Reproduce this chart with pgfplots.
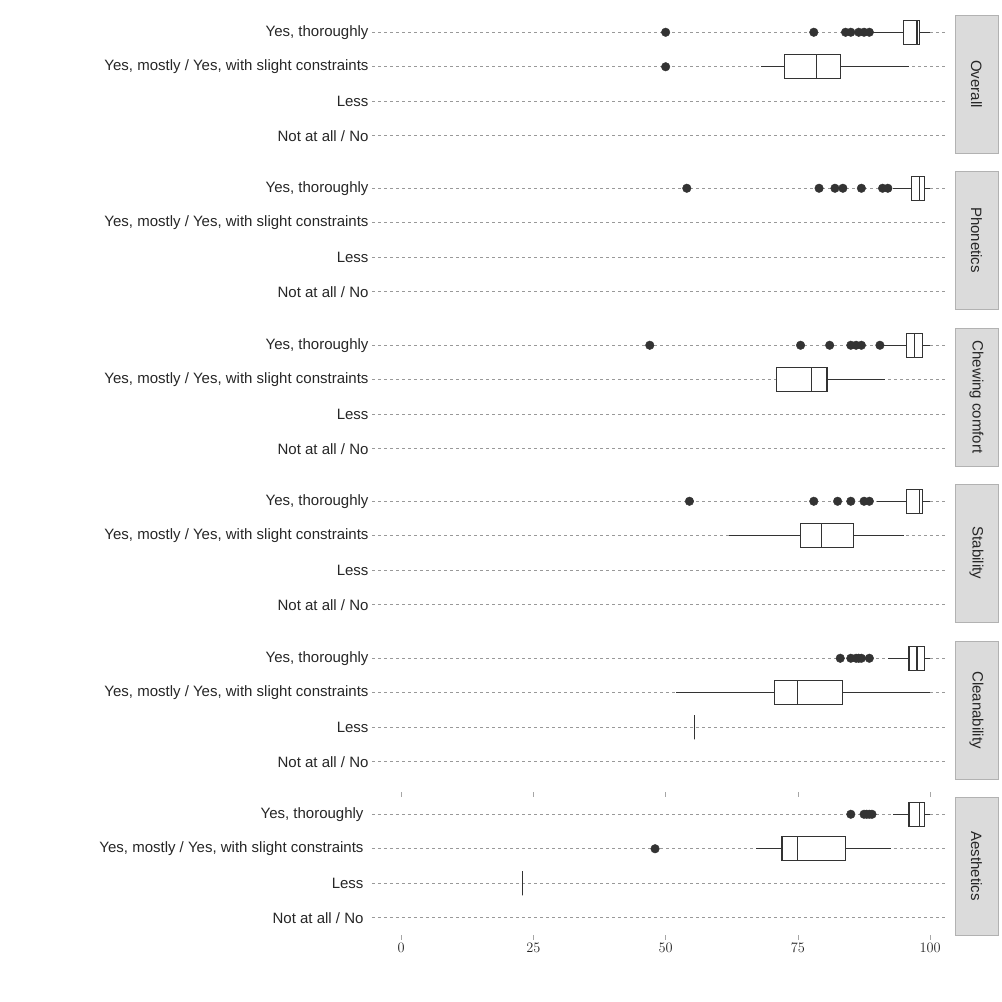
\documentclass[border=0pt]{standalone}
\usepackage{pgfplots}
\pgfplotsset{compat=1.18}
\usepgfplotslibrary{statistics}
\usepackage{fontspec}
\setmainfont{Liberation Sans}
\definecolor{dk}{HTML}{333333}
\pgfplotsset{
 panel/.style={anchor=north west, width=573pt, height=138pt, scale only axis,
  xmin=-5.5, xmax=102.8, ymin=0.5, ymax=4.5, y dir=reverse, clip=false,
  ytick={1,2,3,4}, yticklabels={{Yes, thoroughly},{Yes, mostly / Yes, with slight constraints},{Less},{Not at all / No}},
  axis line style={draw=none}, ymajorgrids, major grid style={dashed, gray!80, line width=0.6pt},
  ytick style={draw=none}, xtick=\empty,
  tick label style={font=\fontsize{15}{18}\selectfont, text=black!85},
  boxplot/draw direction=x, boxplot/whisker extend=0, boxplot/box extend=0.7,
 },
 bp/.style={draw=dk, fill=white, line width=1.1pt, solid},
 out/.style={only marks, mark=*, mark size=4.3pt, mark options={fill=dk, draw=dk}},
}
\newcommand{\strip}[1]{%
 \draw[fill=gray!28, draw=gray!60] (rel axis cs:1.0175,0) rectangle (rel axis cs:1.0925,1);
 \node[rotate=-90, font=\fontsize{15}{18}\selectfont, text=black!85] at (rel axis cs:1.055,0.5) {#1};}
\newcommand{\bx}[6]{\addplot[bp, boxplot prepared={lower whisker=#1, lower quartile=#2, median=#3, upper quartile=#4, upper whisker=#5, draw position=#6}] coordinates {};}
\begin{document}
\begin{tikzpicture}
\useasboundingbox (0,0) rectangle (1002pt,-1002pt);
% Overall
\begin{axis}[panel, at={(372pt,-15pt)}]
\bx{88}{95}{97.5}{98}{100}{1}
\bx{68}{72.5}{78.5}{83}{96}{2}
\addplot[out] coordinates {(50,1)(78,1)(84,1)(85,1)(86.5,1)(87.5,1)(88.5,1)(50,2)};
\strip{Overall}
\end{axis}
% Phonetics
\begin{axis}[panel, at={(372pt,-171pt)}]
\bx{93}{96.5}{98}{99}{100}{1}
\addplot[out] coordinates {(54,1)(79,1)(82,1)(83.5,1)(87,1)(91,1)(92,1)};
\strip{Phonetics}
\end{axis}
% Chewing
\begin{axis}[panel, at={(372pt,-328pt)}]
\bx{91}{95.5}{97}{98.5}{100}{1}
\bx{71}{71}{77.5}{80.5}{91.5}{2}
\addplot[out] coordinates {(47,1)(75.5,1)(81,1)(85,1)(86,1)(87,1)(90.5,1)};
\strip{Chewing comfort}
\end{axis}
% Stability
\begin{axis}[panel, at={(372pt,-484pt)}]
\bx{90}{95.5}{98}{98.5}{100}{1}
\bx{62}{75.5}{79.5}{85.5}{95}{2}
\addplot[out] coordinates {(54.5,1)(78,1)(82.5,1)(85,1)(87.5,1)(88.5,1)};
\strip{Stability}
\end{axis}
% Cleanability
\begin{axis}[panel, at={(372pt,-641pt)}]
\bx{92}{96}{97.5}{99}{100}{1}
\bx{52}{70.5}{75}{83.5}{100}{2}
\bx{55.5}{55.5}{55.5}{55.5}{55.5}{3}
\addplot[out] coordinates {(83,1)(85,1)(86,1)(86.5,1)(87,1)(88.5,1)};
\strip{Cleanability}
\end{axis}
% Aesthetics
\begin{axis}[panel, at={(372pt,-797pt)}, xtick={0,25,50,75,100}, xtick style={draw=gray!70, line width=0.6pt}, tick align=outside, major tick length=5pt]
\bx{93}{96}{98}{99}{100}{1}
\bx{67}{72}{75}{84}{92.5}{2}
\bx{23}{23}{23}{23}{23}{3}
\addplot[out] coordinates {(85,1)(87.5,1)(88,1)(88.5,1)(89,1)(48,2)};
\strip{Aesthetics}
\end{axis}
\end{tikzpicture}
\end{document}
